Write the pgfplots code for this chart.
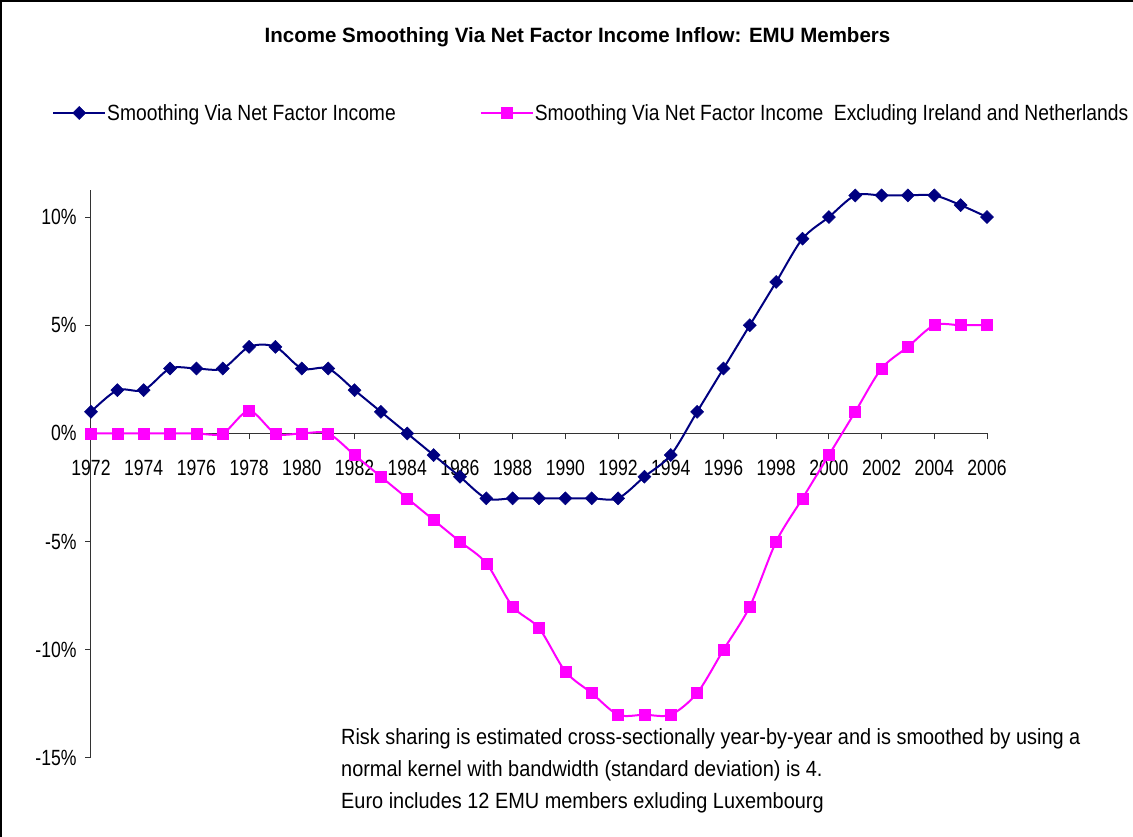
\documentclass[border=0pt]{standalone}
\usepackage{fontspec}
\setmainfont{Liberation Sans}[FakeStretch=0.8]
\newfontfamily\legfont{Liberation Sans}[FakeStretch=0.875]
\newfontfamily\notefont{Liberation Sans}[FakeStretch=0.905]
\newfontfamily\titlefont{Liberation Sans}[FakeStretch=0.99]
\usepackage{pgfplots}
\pgfplotsset{compat=1.18}
\definecolor{navyc}{HTML}{000080}
\definecolor{magc}{HTML}{FF00FF}
\begin{document}
\begin{tikzpicture}[x=1bp,y=1bp]
\path[use as bounding box] (-91,-79) rectangle (1042,758);
\draw[line width=2.5bp] (-89.75,-79) -- (-89.75,756.75) -- (1042,756.75);
\begin{axis}[
  at={(0,0)}, anchor=south west,
  scale only axis, width=896bp, height=568bp,
  xmin=1972, xmax=2006, ymin=-15, ymax=11.25,
  axis x line=middle, axis y line=left,
  axis line style={-, black!80, line width=1bp},
  hide obscured x ticks=false, hide obscured y ticks=false,
  xtick={1972,1974,...,2006}, ytick={-15,-10,...,10},
  tick align=outside, major tick length=6bp,
  tick style={black!80, line width=1bp},
  /pgf/number format/assume math mode=true,
  xticklabel style={font=\fontsize{22bp}{22bp}\selectfont, /pgf/number format/1000 sep={}, yshift=-17bp},
  yticklabel style={font=\fontsize{22bp}{22bp}\selectfont, xshift=-5bp},
  yticklabel={\pgfmathprintnumber{\tick}\%},
  clip=false,
  legend columns=2,
  legend cell align=left,
  legend style={at={(axis description cs:-0.0435,1.1356)}, anchor=west, draw=none, fill=none,
    font=\legfont\fontsize{22bp}{22bp}\selectfont, inner sep=0pt,
    nodes={inner sep=1bp},
    /tikz/every even column/.append style={column sep=83bp}},
  legend image code/.code={\draw[mark repeat=2,mark phase=2,#1] plot coordinates {(0bp,0bp) (26bp,0bp) (52bp,0bp)};},
]
\addplot[navyc, line width=2bp, smooth, tension=0.5, mark=square*, mark size=4.6bp,
  mark options={rotate=45, fill=navyc, draw=navyc, line width=0.5bp}] coordinates {
(1972,1) (1973,2) (1974,2) (1975,3) (1976,3) (1977,3) (1978,4) (1979,4) (1980,3) (1981,3)
(1982,2) (1983,1) (1984,0) (1985,-1) (1986,-2) (1987,-3) (1988,-3) (1989,-3) (1990,-3) (1991,-3)
(1992,-3) (1993,-2) (1994,-1) (1995,1) (1996,3) (1997,5) (1998,7) (1999,9) (2000,10) (2001,11)
(2002,11) (2003,11) (2004,11) (2005,10.55) (2006,10)
};
\addlegendentry{Smoothing Via Net Factor Income}
\addplot[magc, line width=2bp, smooth, tension=0.5, mark=square*, mark size=5.5bp,
  mark options={fill=magc, draw=magc, line width=0.5bp}] coordinates {
(1972,0) (1973,0) (1974,0) (1975,0) (1976,0) (1977,0) (1978,1.05) (1979,0) (1980,0) (1981,0)
(1982,-1) (1983,-2) (1984,-3) (1985,-4) (1986,-5) (1987,-6) (1988,-8) (1989,-9) (1990,-11) (1991,-12)
(1992,-13) (1993,-13) (1994,-13) (1995,-12) (1996,-10) (1997,-8) (1998,-5) (1999,-3) (2000,-1) (2001,1)
(2002,3) (2003,4) (2004,5) (2005,5) (2006,5)
};
\addlegendentry{Smoothing Via Net Factor Income \ Excluding Ireland and Netherlands}
\end{axis}
\node[font=\titlefont\bfseries\fontsize{20.7bp}{20.7bp}\selectfont] at (486.5,721) {Income Smoothing Via Net Factor Income Inflow: EMU Members};
\node[anchor=base west, inner sep=0pt, font=\notefont\fontsize{22bp}{22bp}\selectfont] at (250,13) {Risk sharing is estimated cross-sectionally year-by-year and is smoothed by using a};
\node[anchor=base west, inner sep=0pt, font=\notefont\fontsize{22bp}{22bp}\selectfont] at (250,-19) {normal kernel with bandwidth (standard deviation) is 4.};
\node[anchor=base west, inner sep=0pt, font=\notefont\fontsize{22bp}{22bp}\selectfont] at (250,-51) {Euro includes 12 EMU members exluding Luxembourg};
\end{tikzpicture}
\end{document}
